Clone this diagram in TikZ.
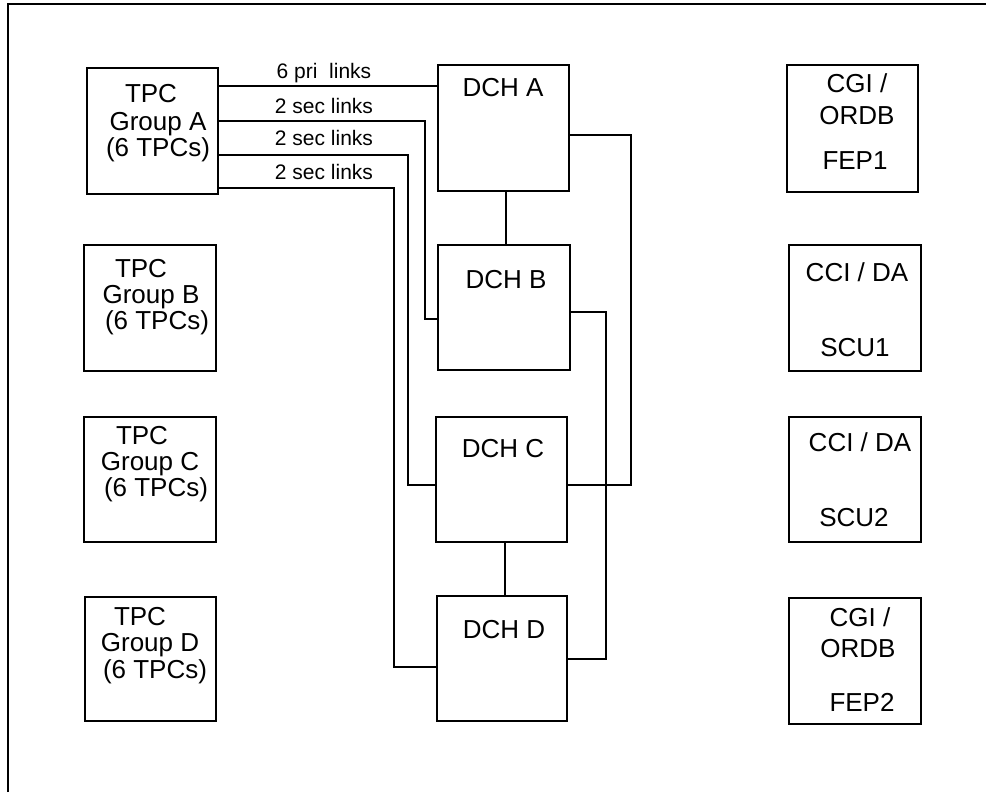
\documentclass[tikz,border=0pt]{standalone}
\usepackage{fontspec}
\setmainfont{Liberation Sans}
\begin{document}
\begin{tikzpicture}[x=1pt,y=-1pt,
  box/.style={draw, line width=1.6pt, inner sep=0pt},
  lbl/.style={font=\fontsize{26}{28}\selectfont, inner sep=0pt, text height=18.6pt, text depth=0pt},
  lnk/.style={font=\fontsize{21}{23}\selectfont, inner sep=0pt, text height=15pt, text depth=0pt},
  wire/.style={line width=1.6pt},
  frame/.style={line width=1.4pt}]
\useasboundingbox (0,0) rectangle (987,792);
% frame
\coordinate (fbl) at (8,792);
\coordinate (ftl) at (8,4);
\coordinate (ftr) at (986,4);
\draw[frame] (fbl) -- (ftl) -- (ftr);

% TPC boxes
\node[box, minimum width=131pt, minimum height=126pt] (tpcA) at (152.5,131) {};
\node[box, minimum width=132pt, minimum height=126pt] (tpcB) at (150,308) {};
\node[box, minimum width=132pt, minimum height=125pt] (tpcC) at (150,479.5) {};
\node[box, minimum width=131pt, minimum height=124pt] (tpcD) at (150.5,659) {};

\node[lbl] (tA1) at (151,93) {TPC};
\node[lbl] (tA2) at (158,121) {Group A};
\node[lbl] (tA3) at (158,147) {(6 TPCs)};
\node[lbl] (tB1) at (141,268) {TPC};
\node[lbl] (tB2) at (151,294) {Group B};
\node[lbl] (tB3) at (157,320) {(6 TPCs)};
\node[lbl] (tC1) at (142,435) {TPC};
\node[lbl] (tC2) at (150,461) {Group C};
\node[lbl] (tC3) at (156,487) {(6 TPCs)};
\node[lbl] (tD1) at (140,616) {TPC};
\node[lbl] (tD2) at (150,642) {Group D};
\node[lbl] (tD3) at (155,669) {(6 TPCs)};

% DCH boxes
\node[box, minimum width=131pt, minimum height=126pt] (dchA) at (503.5,128) {};
\node[box, minimum width=132pt, minimum height=125pt] (dchB) at (504,307.5) {};
\node[box, minimum width=131pt, minimum height=125pt] (dchC) at (501.5,479.5) {};
\node[box, minimum width=130pt, minimum height=125pt] (dchD) at (502,658.5) {};

\node[lbl] (dA) at (503,87) {DCH A};
\node[lbl] (dB) at (506,279) {DCH B};
\node[lbl] (dC) at (503,448) {DCH C};
\node[lbl] (dD) at (504,629) {DCH D};

% right column
\node[box, minimum width=131pt, minimum height=127pt] (fep1) at (852.5,128.5) {};
\node[box, minimum width=132pt, minimum height=126pt] (scu1) at (855,308) {};
\node[box, minimum width=132pt, minimum height=125pt] (scu2) at (855,479.5) {};
\node[box, minimum width=132pt, minimum height=126pt] (fep2) at (855,661) {};

\node[lbl] (f1a) at (857,83) {CGI /};
\node[lbl] (f1b) at (857,115) {ORDB};
\node[lbl] (f1c) at (855,160) {FEP1};
\node[lbl] (s1a) at (857,272) {CCI / DA};
\node[lbl] (s1b) at (855,347) {SCU1};
\node[lbl] (s2a) at (860,442) {CCI / DA};
\node[lbl] (s2b) at (854,517) {SCU2};
\node[lbl] (f2a) at (860,617) {CGI /};
\node[lbl] (f2b) at (858,648) {ORDB};
\node[lbl] (f2c) at (862,702) {FEP2};

% link labels
\node[lnk] (l1) at (324,71) {6 pri\ \ links};
\node[lnk] (l2) at (324,106) {2 sec links};
\node[lnk] (l3) at (324,138) {2 sec links};
\node[lnk] (l4) at (324,172) {2 sec links};

% connectors
\draw[wire] (tpcA.east |- 0,86) -- (dchA.west |- 0,86);
\draw[wire] (tpcA.east |- 0,121) -- (425,121) |- (dchB.west |- 0,319);
\draw[wire] (tpcA.east |- 0,155) -- (408,155) |- (dchC.west |- 0,485);
\draw[wire] (tpcA.east |- 0,188) -- (394,188) |- (dchD.west |- 0,667);
\draw[wire] (dchA.east |- 0,135) -- (631,135) |- (dchC.east |- 0,485);
\draw[wire] (dchB.east |- 0,312) -- (606,312) |- (dchD.east |- 0,659);
\draw[wire] (dchA.south -| 506,0) -- (dchB.north -| 506,0);
\draw[wire] (dchC.south -| 505,0) -- (dchD.north -| 505,0);
\end{tikzpicture}
\end{document}
